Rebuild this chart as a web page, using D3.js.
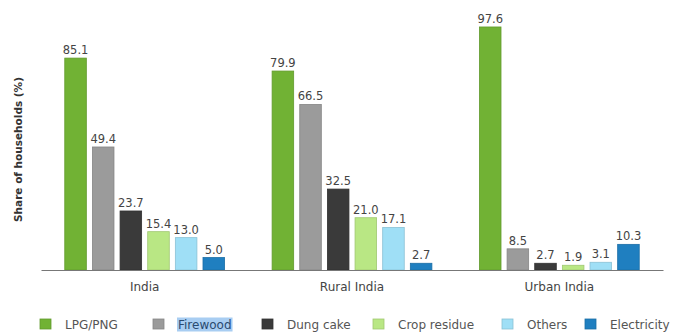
<!DOCTYPE html>
<html>
<head>
<meta charset="utf-8">
<script src="https://cdn.jsdelivr.net/npm/d3@7"></script>
<style>
  body { margin: 0; background: #fff; }
  svg { display: block; font-family: "DejaVu Sans", sans-serif; }
</style>
</head>
<body>
<svg id="chart" width="680" height="334"></svg>
<script>
const groups = ["India", "Rural India", "Urban India"];
const series = ["LPG/PNG", "Firewood", "Dung cake", "Crop residue", "Others", "Electricity"];
const lpg = [85.1, 79.9, 97.6];
const firewood = [49.4, 66.5, 8.5];
const dungCake = [23.7, 32.5, 2.7];
const cropResidue = [15.4, 21.0, 1.9];
const others = [13.0, 17.1, 3.1];
const electricity = [5.0, 2.7, 10.3];
const colors = ["#71b234", "#9b9b9b", "#3a3a3a", "#b9e784", "#9fdff6", "#1f7fc0"];

const values = [lpg, firewood, dungCake, cropResidue, others, electricity];
const rows = [];
groups.forEach((g, gi) => {
    series.forEach((s, si) => rows.push({group: g, key: s, value: values[si][gi], color: colors[si]}));
});

const svg = d3.select("#chart");
const margin = {top: 21, right: 17, bottom: 64, left: 41};
const width = 680, height = 334;

const x0 = d3.scaleBand().domain(groups).range([margin.left, width - margin.right]);
const x1 = d3.scaleBand().domain(series).range([0, x0.bandwidth()])
    .paddingInner(0.22).paddingOuter(0.86);
const y = d3.scaleLinear().domain([0, 100]).range([height - margin.bottom, margin.top]);

// bars
svg.append("g")
    .selectAll("rect")
    .data(rows)
    .enter().append("rect")
        .attr("x", d => x0(d.group) + x1(d.key))
        .attr("y", d => y(d.value))
        .attr("width", x1.bandwidth())
        .attr("height", d => y(0) - y(d.value))
        .attr("fill", d => d.color)
        .attr("stroke", d => d3.color(d.color).darker(0.4))
        .attr("stroke-width", 0.8);

// value labels
svg.append("g")
    .attr("text-anchor", "middle")
    .style("font-size", "11.5px")
    .attr("fill", "#444")
    .selectAll("text")
    .data(rows)
    .enter().append("text")
        .attr("x", d => x0(d.group) + x1(d.key) + x1.bandwidth() / 2)
        .attr("y", d => y(d.value) - 4)
        .text(d => d3.format(".1f")(d.value));

// x axis
const xAxis = svg.append("g")
    .attr("transform", `translate(0, ${y(0)})`)
    .call(d3.axisBottom(x0).tickSize(0).tickPadding(12));
xAxis.select(".domain").attr("stroke", "#777");
xAxis.selectAll("text")
    .style("font-size", "12px")
    .style("font-family", "DejaVu Sans, sans-serif")
    .attr("fill", "#444");

// y label
svg.append("text")
    .attr("transform", `translate(22, ${(y(0) + y(100)) / 2 + 4}) rotate(-90)`)
    .attr("text-anchor", "middle")
    .style("font-size", "10.5px")
    .style("font-weight", "bold")
    .attr("fill", "#333")
    .text("Share of households (%)");

// legend
const legendX = [40, 153, 262, 373, 502, 585];
const legend = svg.append("g")
    .selectAll("g")
    .data(series)
    .enter().append("g")
        .attr("transform", (d, i) => `translate(${legendX[i]}, 319)`);

legend.append("rect")
    .attr("width", 11)
    .attr("height", 10)
    .attr("fill", (d, i) => colors[i])
    .attr("stroke", (d, i) => d3.color(colors[i]).darker(0.4))
    .attr("stroke-width", 0.8);

legend.append("text")
    .attr("x", 25)
    .attr("y", 9.5)
    .style("font-size", "12px")
    .attr("fill", d => d === "Firewood" ? "#2a4a70" : "#555")
    .text(d => d);

// selection highlight behind "Firewood", as in the source picture
legend.filter(d => d === "Firewood").each(function() {
    const g = d3.select(this);
    const b = g.select("text").node().getBBox();
    g.insert("rect", "text")
        .attr("x", b.x - 1)
        .attr("y", b.y)
        .attr("width", b.width + 2)
        .attr("height", b.height)
        .attr("fill", "#a8cdf2");
});
</script>
</body>
</html>
